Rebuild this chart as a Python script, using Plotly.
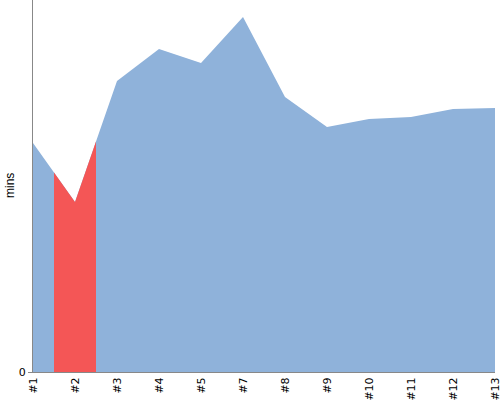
import plotly.graph_objects as go

categories = ["#1", "#2", "#3", "#4", "#5", "#7", "#8", "#9", "#10", "#11", "#12", "#13"]
mins = [229, 170, 291, 323, 309, 355, 275, 245, 253, 255, 263, 264]
highlight_index = 1

xs = list(range(len(categories)))
h = highlight_index
red_x = [h - 0.5, h, h + 0.5]
red_y = [(mins[h - 1] + mins[h]) / 2, mins[h], (mins[h] + mins[h + 1]) / 2]

fig = go.Figure()
fig.add_trace(go.Scatter(x=xs, y=mins, mode="none", fill="tozeroy",
                         fillcolor="#8FB2DA", hoverinfo="skip", showlegend=False))
fig.add_trace(go.Scatter(x=red_x, y=red_y, mode="none", fill="tozeroy",
                         fillcolor="#F45656", hoverinfo="skip", showlegend=False))

fig.update_layout(
    width=500, height=400,
    margin=dict(l=33, r=5, t=0, b=28, autoexpand=False),
    paper_bgcolor="white", plot_bgcolor="white",
    font=dict(family="DejaVu Sans", size=11, color="#000"),
    xaxis=dict(range=[0, len(categories) - 1], tickmode="array", tickvals=xs,
               ticktext=categories, tickangle=-90, showgrid=False, zeroline=False,
               showline=True, linecolor="#888", linewidth=1, ticks="",
               automargin=False, ticklabeloverflow="allow", tickfont=dict(size=11)),
    yaxis=dict(range=[0, 372], tickmode="array", tickvals=[0], ticktext=["0"],
               showgrid=False, zeroline=False, showline=True, linecolor="#888",
               linewidth=1, ticks="outside", ticklen=4, tickcolor="#888",
               automargin=False),
    annotations=[dict(text="mins", xref="paper", yref="paper", x=0, y=0.5,
                      xshift=-23, xanchor="center", yanchor="middle",
                      textangle=-90, showarrow=False,
                      font=dict(family="Liberation Sans", size=12))],
)
fig.write_html("out.html", config={"displayModeBar": False},
               post_script="document.body.style.margin='0';document.body.style.overflow='hidden';")
